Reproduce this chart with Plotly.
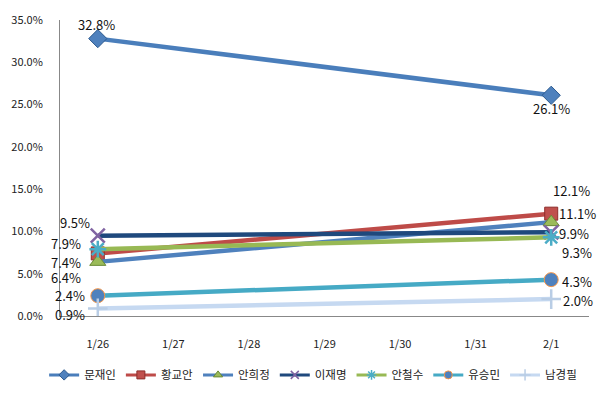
import plotly.graph_objects as go

categories = ["1/26", "1/27", "1/28", "1/29", "1/30", "1/31", "2/1"]
names = ["문재인", "황교안", "안희정", "이재명", "안철수", "유승민", "남경필"]
first_vals = [32.8, 7.4, 6.4, 9.5, 7.9, 2.4, 0.9]
last_vals = [26.1, 12.1, 11.1, 9.9, 9.3, 4.3, 2.0]
y_ticks = [0, 5, 10, 15, 20, 25, 30, 35]

line_colors = ["#4A7EBB", "#BE4B48", "#4F81BD", "#1F497D", "#98B954", "#46AAC5", "#C6D9F1"]
marker_colors = ["#4F81BD", "#C0504D", "#9BBB59", "#8064A2", "#4BACC6", "#4F81BD", "#B9CDE5"]
marker_line = ["#2C5A8F", "#8E2E2B", "#6A8A36", "#8064A2", "#4BACC6", "#F79646", "#B9CDE5"]
symbols = ["diamond", "square", "triangle-up", "x-thin", "asterisk", "circle", "cross-thin"]
sizes = [14, 13, 14, 14, 14, 14, 14]
# label offsets (px) for first / last points
first_off = [(-1, 14), (-32, -9), (-32, -16), (-23, 13), (-32, 6), (-28, 0), (-28, -6)]
last_off = [(0, -13), (20, 23), (26, 9), (23, -1), (26, -15), (26, -2), (27, -1)]

fig = go.Figure()
for i, n in enumerate(names):
    msym = symbols[i]
    thin = msym in ("x-thin", "asterisk", "cross-thin")
    mline_w = 2.5 if thin else 1
    mline_c = marker_colors[i] if thin else marker_line[i]
    fig.add_trace(go.Scatter(
        x=[categories[0], categories[-1]], y=[first_vals[i], last_vals[i]],
        mode="lines+markers", name=n, showlegend=False,
        line=dict(color=line_colors[i], width=4.5),
        marker=dict(symbol=msym, size=sizes[i], color=marker_colors[i],
                    line=dict(color=mline_c, width=mline_w)),
    ))
    # legend entry with small symbol
    fig.add_trace(go.Scatter(
        x=[None], y=[None], mode="lines+markers", name=n, showlegend=True,
        line=dict(color=line_colors[i], width=3),
        marker=dict(symbol=msym, size=8, color=marker_colors[i],
                    line=dict(color=mline_c, width=1.5 if thin else 1)),
    ))
    for xv, yv, off in ((categories[0], first_vals[i], first_off[i]),
                        (categories[-1], last_vals[i], last_off[i])):
        fig.add_annotation(x=xv, y=yv, text=f"{yv:.1f}%", showarrow=False,
                           xshift=off[0], yshift=off[1],
                           font=dict(family="Noto Sans CJK KR", size=13, color="#111111"))

fig.update_layout(
    width=600, height=400, margin=dict(l=50, r=11, t=17, b=78),
    paper_bgcolor="white", plot_bgcolor="white",
    font=dict(family="Noto Sans CJK KR", size=11, color="#222222"),
    legend=dict(orientation="h", x=-0.03, xanchor="left",
                y=-0.15, yanchor="top", font=dict(size=11.5), itemwidth=30,
                tracegroupgap=0),
    xaxis=dict(type="category", categoryorder="array", categoryarray=categories,
               range=[-0.5, 6.5], showgrid=False, showline=True, linecolor="#888888",
               linewidth=1, ticks="", ticklabelstandoff=18, zeroline=False,
               tickfont=dict(size=11)),
    yaxis=dict(range=[0, 35], tickvals=y_ticks, ticktext=[f"{v:.1f}%" for v in y_ticks],
               showgrid=False, showline=True, linecolor="#888888", linewidth=1,
               ticks="", ticklabelstandoff=14, zeroline=False, tickfont=dict(size=11)),
)
fig.write_html("out.html")
